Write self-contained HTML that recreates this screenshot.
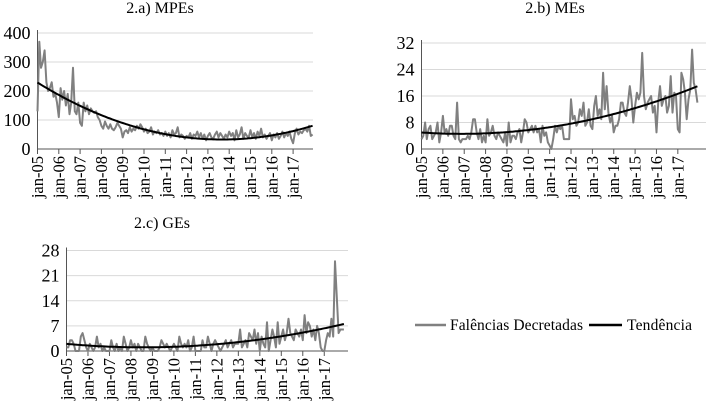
<!DOCTYPE html>
<html><head><meta charset="utf-8"><style>
html,body{margin:0;padding:0;background:#fff;}
svg{display:block;}
svg text{font-family:"Liberation Serif","Times New Roman",serif;}
</style></head><body>
<svg id="svg" width="706" height="402" viewBox="0 0 706 402" xmlns="http://www.w3.org/2000/svg" font-family="Liberation Serif, serif">
<g id="legend">
<line x1="415" y1="325" x2="446" y2="325" stroke="#808080" stroke-width="2.5"/>
<text x="450" y="330" font-size="15.5" font-family="Liberation Serif, serif" fill="#000" textLength="133">Falências Decretadas</text>
<line x1="589" y1="325" x2="622" y2="325" stroke="#000" stroke-width="2.5"/>
<text x="627" y="330" font-size="15.5" font-family="Liberation Serif, serif" fill="#000" textLength="65">Tendência</text>
</g>
</svg>
<script>
const yearLabels = ["jan-05","jan-06","jan-07","jan-08","jan-09","jan-10","jan-11","jan-12","jan-13","jan-14","jan-15","jan-16","jan-17"];
const mpeValues = [130,370,280,300,340,230,200,210,230,180,190,160,
110,210,170,200,150,190,120,160,280,130,120,160,
90,80,160,130,150,120,140,130,125,130,110,100,
80,70,95,80,70,85,70,65,75,90,80,70,
40,60,65,55,75,60,70,65,80,70,85,75,
60,70,55,60,75,50,60,55,65,50,55,45,
60,45,55,40,65,50,55,75,40,50,45,35,
45,40,55,35,50,45,60,40,55,35,50,30,
45,55,40,35,50,60,40,55,45,35,50,40,
60,45,55,30,65,40,50,75,35,55,45,40,
65,40,55,35,60,45,70,40,50,35,45,55,
30,50,40,55,35,45,60,40,55,45,60,35,
20,55,70,50,60,55,65,70,60,80,45,50];
const meValues = [3,4,8,3,6,7,3,4,5,8,2,5,
10,5,6,4,7,7,4,3,14,3,2,3,
3,3,4,3,5,9,9,5,3,6,2,4,
2,9,4,5,7,4,3,5,4,3,2,5,
1,8,2,4,4,3,5,6,2,5,9,8,
5,6,7,5,7,5,6,2,7,4,5,2,
1,0,3,7,5,7,6,7,3,3,3,3,
15,9,10,7,8,12,10,14,7,8,12,7,
6,13,16,10,12,9,23,12,19,11,8,10,
5,7,7,9,14,14,11,10,14,19,15,8,
13,17,15,17,29,16,12,14,15,16,11,13,
5,14,19,13,15,16,11,13,22,11,17,16,
6,5,23,21,17,9,15,18,30,20,18,14];
const geValues = [1,1,3,3,2,0,0,0,4,5,3,1,
0,2,1,0,1,4,1,2,0,1,0,0,
0,3,1,0,2,0,1,0,4,2,0,1,
3,1,2,0,2,1,0,0,4,2,1,0,
1,0,0,0,1,3,2,1,2,1,0,1,
2,1,0,4,2,1,2,1,3,0,1,4,
0,0,0,0,3,1,1,4,2,0,2,3,
2,1,0,1,2,3,1,2,3,1,2,2,
2,6,1,2,3,1,5,4,3,6,2,5,
0,4,2,1,8,0,3,6,4,1,8,2,
4,6,3,5,9,5,4,3,6,5,4,6,
3,10,5,8,7,4,6,3,7,5,1,0,
0,3,5,4,9,4,25,15,5,6,6,6];
const mpeTicks = [0,100,200,300,400];
const meTicks = [0,8,16,24,32];
const geTicks = [0,7,14,21,28];

const NS = "http://www.w3.org/2000/svg";
const svg = document.getElementById("svg");
const FONT = "Liberation Serif, serif";
function mk(tag, attrs, parent){const e=document.createElementNS(NS,tag);for(const k in attrs)e.setAttribute(k,attrs[k]);(parent||svg).appendChild(e);return e;}

function quadFit(v){
  let S=[0,0,0,0,0],T=[0,0,0];
  v.forEach((y,i)=>{const x=i/100;let p=1;for(let k=0;k<5;k++){S[k]+=p;if(k<3)T[k]+=p*y;p*=x;}});
  const A=[[S[0],S[1],S[2],T[0]],[S[1],S[2],S[3],T[1]],[S[2],S[3],S[4],T[2]]];
  for(let c=0;c<3;c++){for(let r=c+1;r<3;r++){const f=A[r][c]/A[c][c];for(let k=c;k<4;k++)A[r][k]-=f*A[c][k];}}
  const b=[0,0,0];for(let r=2;r>=0;r--){let s=A[r][3];for(let k=r+1;k<3;k++)s-=A[r][k]*b[k];b[r]=s/A[r][r];}
  return v.map((_,i)=>{const x=i/100;return b[0]+b[1]*x+b[2]*x*x;});
}

function chart(cfg){
  const g=mk("g",{});
  
  
  const {x0,x1,y0,y1,ticks,values,title,tx,ty}=cfg;
  const ymax=ticks[ticks.length-1];
  const sx=i=>x0+i*cfg.step;
  const sy=v=>y0-(v/ymax)*(y0-y1);
  const t=mk("text",{x:tx,y:ty,"font-size":16,"font-family":FONT,"text-anchor":"middle",fill:"#000"},g);
  t.textContent=title;
  
  
  ticks.forEach(v=>{
    if(v>0){const l=mk("line",{x1:x0,x2:x1,y1:sy(v),y2:sy(v),stroke:"#d9d9d9","stroke-width":1},g);
      
      }
    const tl=mk("text",{x:x0-7,y:sy(v)+6,"font-size":18,"font-family":FONT,"text-anchor":"end",fill:"#000"},g);
    tl.textContent=v;
    
    
  });
  const ya=mk("line",{x1:x0,x2:x0,y1:y1-3,y2:y0,stroke:"#555","stroke-width":1},g);
  
  
  const xa=mk("line",{x1:x0,x2:x1,y1:y0,y2:y0,stroke:"#555","stroke-width":1},g);
  
  
  yearLabels.forEach((lab,k)=>{
    const x=sx(k*12);
    const tk=mk("line",{x1:x,x2:x,y1:y0,y2:y0+5,stroke:"#555","stroke-width":1},g);
    
    
    const tt=mk("text",{x:0,y:0,"font-size":16.5,"font-family":FONT,"text-anchor":"end",fill:"#000",transform:`translate(${x+5.5},${y0+7}) rotate(-90)`},g);
    tt.textContent=lab;
    
    
  });
  const p=mk("polyline",{points:values.map((v,i)=>sx(i).toFixed(1)+","+sy(v).toFixed(1)).join(" "),fill:"none",stroke:"#808080","stroke-width":2,"stroke-linejoin":"round"},g);
  
  
  const tr=quadFit(values);
  const q=mk("polyline",{points:tr.map((v,i)=>sx(i).toFixed(1)+","+sy(v).toFixed(1)).join(" "),fill:"none",stroke:"#000","stroke-width":2},g);
  
  
}
chart({name:"chart-mpes",title:"2.a) MPEs",tx:160,ty:13,x0:37.5,x1:313,y0:149,y1:33,step:1.775,ticks:mpeTicks,values:mpeValues});
chart({name:"chart-mes",title:"2.b) MEs",tx:555,ty:13,x0:421.5,x1:706,y0:149,y1:43,step:1.78,ticks:meTicks,values:meValues});
chart({name:"chart-ges",title:"2.c) GEs",tx:162,ty:228,x0:66.5,x1:348,y0:351,y1:250.5,step:1.79,ticks:geTicks,values:geValues});
</script>
</body></html>
